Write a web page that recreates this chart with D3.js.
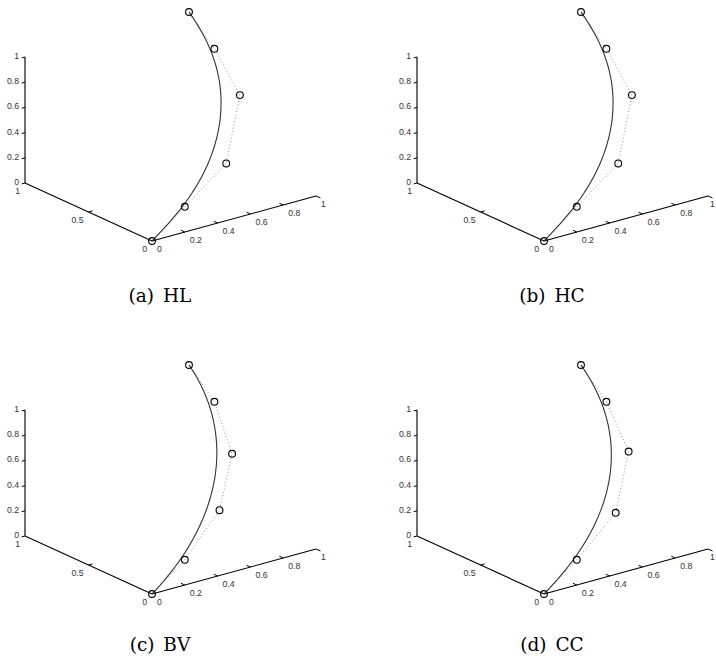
<!DOCTYPE html>
<html>
<head>
<meta charset="utf-8">
<script src="https://cdn.jsdelivr.net/npm/d3@7/dist/d3.min.js"></script>
<style>
  html, body { margin: 0; padding: 0; background: #fff; }
  svg { display: block; }
</style>
</head>
<body>
<svg id="fig" width="716" height="671"></svg>
<script>
// Sub-figure captions
const captions = ["(a) HL", "(b) HC", "(c) BV", "(d) CC"];

// Control points (x, y, z) of the degree-5 Bézier curve in each sub-figure
const ctrlHL = [[0, 0, 0], [0.2, 0, 0.2], [0.53, 0.10, 0.38], [0.90, 0.47, 0.62], [1, 0.8, 0.8], [1, 1, 1]];
const ctrlHC = [[0, 0, 0], [0.2, 0, 0.2], [0.53, 0.10, 0.38], [0.90, 0.47, 0.62], [1, 0.8, 0.8], [1, 1, 1]];
const ctrlBV = [[0, 0, 0], [0.2, 0, 0.2], [0.52, 0.14, 0.415], [0.86, 0.48, 0.585], [1, 0.8, 0.8], [1, 1, 1]];
const ctrlCC = [[0, 0, 0], [0.2, 0, 0.2], [0.53, 0.12, 0.40], [0.88, 0.47, 0.60], [1, 0.8, 0.8], [1, 1, 1]];

// Axis ticks
const xTicks = [0, 0.2, 0.4, 0.6, 0.8, 1];
const yTicks = [0, 0.5, 1];
const zTicks = [0, 0.2, 0.4, 0.6, 0.8, 1];

const panels = [
  { ctrl: ctrlHL, caption: captions[0], ox: 152, oy: 241, cx: 160, cy: 302 },
  { ctrl: ctrlHC, caption: captions[1], ox: 544, oy: 241, cx: 552, cy: 302 },
  { ctrl: ctrlBV, caption: captions[2], ox: 152, oy: 594, cx: 160, cy: 651 },
  { ctrl: ctrlCC, caption: captions[3], ox: 544, oy: 594, cx: 552, cy: 651 }
];

const svg = d3.select("#fig");
const W = +svg.attr("width");

// de Casteljau evaluation of a Bézier curve at parameter t
function bezier(pts, t) {
  let p = pts.map(q => q.slice());
  for (let r = 1; r < p.length; r++) {
    for (let i = 0; i < p.length - r; i++) {
      p[i] = p[i].map((v, k) => (1 - t) * v + t * p[i + 1][k]);
    }
  }
  return p[0];
}

panels.forEach(pan => {
  // Oblique 3-D view: each coordinate contributes a screen offset through its own scale
  const xh = d3.scaleLinear().domain([0, 1]).range([0, 164]);
  const xv = d3.scaleLinear().domain([0, 1]).range([0, -45]);
  const yh = d3.scaleLinear().domain([0, 1]).range([0, -127]);
  const yv = d3.scaleLinear().domain([0, 1]).range([0, -58]);
  const zv = d3.scaleLinear().domain([0, 1]).range([0, -126]);
  const proj = ([x, y, z]) => [pan.ox + xh(x) + yh(y), pan.oy + xv(x) + yv(y) + zv(z)];

  const g = svg.append("g");
  const line = d3.line();

  const tickColor = "#000";
  const labelFont = "'Liberation Sans', Arial, sans-serif";
  const labelSize = 8.7;

  // x axis: from origin along x
  g.append("path").attr("d", line([proj([0, 0, 0]), proj([1, 0, 0])]))
    .attr("fill", "none").attr("stroke", "#000").attr("stroke-width", 1.1);
  // y axis: from (0,1,0) to origin
  g.append("path").attr("d", line([proj([0, 1, 0]), proj([0, 0, 0])]))
    .attr("fill", "none").attr("stroke", "#000").attr("stroke-width", 1.1);
  // z axis standing at (0,1,0)
  g.append("path").attr("d", line([proj([0, 1, 0]), proj([0, 1, 1])]))
    .attr("fill", "none").attr("stroke", "#222").attr("stroke-width", 1.3);

  // x ticks
  xTicks.forEach(v => {
    const p = proj([v, 0, 0]);
    const q = v === 1 ? proj([v, -0.035, 0]) : proj([v, 0.03, 0]);
    if (v > 0) g.append("path").attr("d", line([p, q])).attr("stroke", tickColor).attr("stroke-width", 1);
    const t = g.append("text").attr("x", p[0] + 5).attr("y", p[1] + 8).attr("dy", "0.35em")
      .attr("font-family", labelFont).attr("font-size", labelSize).attr("fill", "#333")
      .text(String(v));
    // keep the end label inside the drawing area
    const bb = t.node().getBBox();
    if (bb.x + bb.width > W - 1) t.attr("x", W - 1 - bb.width);
  });
  // y ticks
  yTicks.forEach(v => {
    const p = proj([0, v, 0]);
    if (v > 0 && v < 1) {
      const q = proj([0.025, v, 0]);
      g.append("path").attr("d", line([p, q])).attr("stroke", tickColor).attr("stroke-width", 1);
    }
    g.append("text").attr("x", p[0] - 5).attr("y", p[1] + 8).attr("dy", "0.35em")
      .attr("text-anchor", "end")
      .attr("font-family", labelFont).attr("font-size", labelSize).attr("fill", "#333")
      .text(String(v));
  });
  // z ticks
  zTicks.forEach(v => {
    const p = proj([0, 1, v]);
    const q = proj([-0.02, 1, v]);
    g.append("path").attr("d", line([p, q])).attr("stroke", tickColor).attr("stroke-width", 1);
    g.append("text").attr("x", p[0] - 6).attr("y", p[1] - 1).attr("dy", "0.35em")
      .attr("text-anchor", "end")
      .attr("font-family", labelFont).attr("font-size", labelSize).attr("fill", "#333")
      .text(String(v));
  });

  // control polygon (dotted)
  g.append("path").attr("d", line(pan.ctrl.map(proj)))
    .attr("fill", "none").attr("stroke", "#888").attr("stroke-width", 0.9)
    .attr("stroke-dasharray", "1,2.4");

  // Bézier curve (solid)
  const ts = d3.range(0, 1.0001, 0.005);
  g.append("path").attr("d", line(ts.map(t => proj(bezier(pan.ctrl, t)))))
    .attr("fill", "none").attr("stroke", "#333").attr("stroke-width", 1.1);

  // control points
  g.selectAll("circle.cp").data(pan.ctrl).enter().append("circle")
    .attr("class", "cp")
    .attr("cx", d => proj(d)[0]).attr("cy", d => proj(d)[1])
    .attr("r", 3.4).attr("fill", "none").attr("stroke", "#000").attr("stroke-width", 1.1);

  // caption
  g.append("text").attr("x", pan.cx).attr("y", pan.cy)
    .attr("text-anchor", "middle")
    .attr("font-family", "'DejaVu Serif', serif").attr("font-size", 18.5)
    .attr("word-spacing", 3)
    .attr("fill", "#000")
    .text(pan.caption);
});
</script>
</body>
</html>
